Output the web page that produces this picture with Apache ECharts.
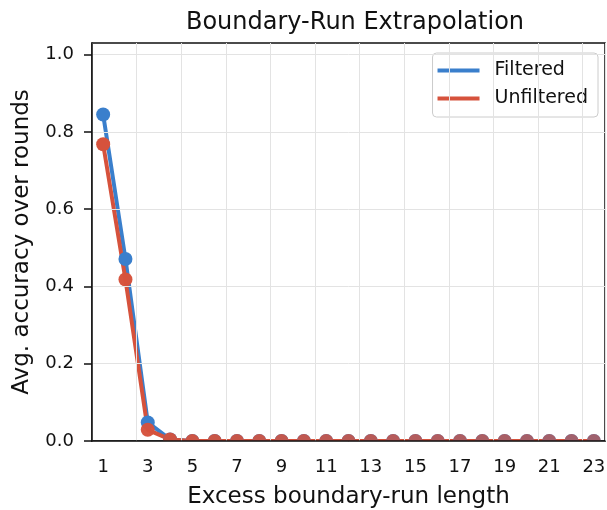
<!DOCTYPE html>
<html lang="en">
<head>
    <meta charset="UTF-8">
    <title>Boundary-Run Extrapolation</title>
    <script src="https://cdn.jsdelivr.net/npm/echarts@6/dist/echarts.min.js"></script>
    <style>
        html, body { margin: 0; padding: 0; background: #fff; }
        #chart { width: 607px; height: 510px; }
    </style>
</head>
<body>
    <div id="chart"></div>
    <script>
        // excess boundary-run length 1..23
        var runLengths = ['1', '2', '3', '4', '5', '6', '7', '8', '9', '10', '11', '12',
            '13', '14', '15', '16', '17', '18', '19', '20', '21', '22', '23'];
        var filtered = [0.845, 0.471, 0.048, 0.004, 0, 0, 0, 0, 0, 0, 0, 0,
            0, 0, 0, 0, 0, 0, 0, 0, 0, 0, 0];
        var unfiltered = [0.768, 0.418, 0.029, 0.004, 0, 0, 0, 0, 0, 0, 0, 0,
            0, 0, 0, 0, 0, 0, 0, 0, 0, 0, 0];
        var yTicks = [0, 0.2, 0.4, 0.6, 0.8, 1.0];

        var font = 'DejaVu Sans';
        var blue = '#3a7fcc';
        var red = '#d6523c';
        var myChart = echarts.init(document.getElementById('chart'));

        // red markers fade a little to the right, letting the blue show through
        function redMarker(p) {
            var a = 1 - 0.35 * p.dataIndex / (runLengths.length - 1);
            return 'rgba(214,82,60,' + a.toFixed(3) + ')';
        }

        var option = {
            animation: false,
            textStyle: { fontFamily: font },
            title: {
                text: 'Boundary-Run Extrapolation',
                left: 350, textAlign: 'center',
                top: 6,
                textStyle: { fontFamily: font, fontSize: 24, fontWeight: 'normal', color: '#111' }
            },
            legend: {
                orient: 'vertical',
                right: 9, top: 53,
                padding: [8, 10, 9, 5],
                itemGap: 9,
                itemWidth: 42, itemHeight: 4,
                icon: 'rect',
                borderColor: '#ccc', borderWidth: 1, borderRadius: 4,
                backgroundColor: 'rgba(255,255,255,0.85)',
                textStyle: { fontFamily: font, fontSize: 19, color: '#111', padding: [0, 0, 0, 10] },
                data: [
                    { name: 'Filtered', itemStyle: { color: blue } },
                    { name: 'Unfiltered', itemStyle: { color: red } }
                ]
            },
            grid: {
                left: 92, right: 2, top: 43, bottom: 69,
                outerBoundsMode: 'none',
                show: true, borderColor: '#111', borderWidth: 1.5
            },
            xAxis: {
                type: 'category',
                data: runLengths,
                boundaryGap: true,
                z: 5,
                name: 'Excess boundary-run length',
                nameLocation: 'middle',
                nameGap: 45,
                nameTextStyle: { fontFamily: font, fontSize: 23, color: '#111' },
                axisLine: { lineStyle: { color: '#111', width: 1.5 } },
                axisTick: { alignWithLabel: true, interval: 1, length: 8, lineStyle: { color: '#111', width: 1.5 } },
                axisLabel: { interval: 1, margin: 17, fontSize: 18, color: '#111' },
                splitLine: { show: true, interval: 1, lineStyle: { color: '#e3e3e3', width: 1 } }
            },
            yAxis: {
                type: 'value',
                min: 0, max: 1.03,
                interval: 0.2,
                z: 5,
                name: 'Avg. accuracy over rounds',
                nameLocation: 'middle',
                nameGap: 58,
                nameTextStyle: { fontFamily: font, fontSize: 23, color: '#111' },
                axisLine: { show: true, lineStyle: { color: '#111', width: 1.5 } },
                axisTick: { show: true, length: 8, customValues: yTicks, lineStyle: { color: '#111', width: 1.5 } },
                axisLabel: {
                    margin: 18, fontSize: 18, color: '#111',
                    customValues: yTicks,
                    formatter: function (v) { return v.toFixed(1); }
                },
                splitLine: { show: true, lineStyle: { color: '#e3e3e3', width: 1 } }
            },
            // white strip below the x axis so markers at 0 look clipped
            graphic: [{
                type: 'rect', z: 3,
                shape: { x: 93, y: 442, width: 514, height: 8 },
                style: { fill: '#fff' }
            }],
            series: [
                {
                    name: 'Filtered',
                    type: 'line',
                    data: filtered,
                    z: 2,
                    symbol: 'circle', symbolSize: 14,
                    lineStyle: { color: blue, width: 4 },
                    itemStyle: { color: blue }
                },
                {
                    name: 'Unfiltered',
                    type: 'line',
                    data: unfiltered,
                    z: 2,
                    symbol: 'circle', symbolSize: 14,
                    lineStyle: { color: red, width: 4 },
                    itemStyle: { color: redMarker }
                }
            ]
        };
        myChart.setOption(option);
    </script>
</body>
</html>
